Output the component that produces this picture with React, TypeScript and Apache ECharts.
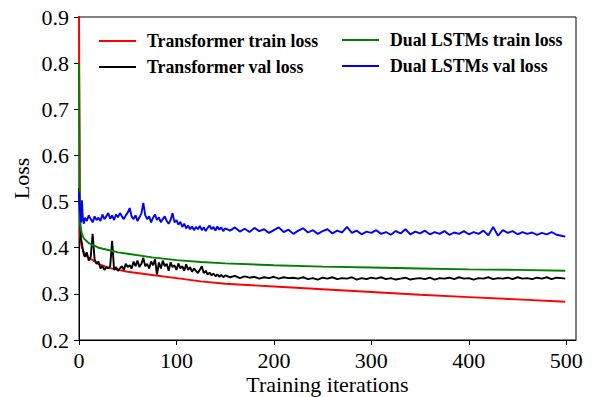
import React, { useEffect, useRef } from "react";
import * as echarts from "echarts";

const FONT = "'Times New Roman', 'Liberation Serif', serif";

// Iterations for the noisy validation curves
const iters = [
  0, 1, 2, 3, 4, 5, 6,
  8, 10, 12, 14, 16, 18, 20, 22, 24, 26, 28, 30, 32, 34, 36, 38, 40, 42, 44, 46, 48, 50,
  52, 54, 56, 58, 60, 62, 64, 66, 68, 70, 72, 74, 76, 78, 80, 82, 84, 86, 88, 90, 92, 94, 96, 98, 100,
  102, 104, 106, 108, 110, 112, 114, 116, 118, 120, 122, 124, 126, 128, 130, 132, 134, 136, 138, 140, 142, 144, 146, 148, 150,
  155, 160, 165, 170, 175, 180, 185, 190, 195, 200, 205, 210, 215, 220, 225, 230, 235, 240, 245, 250,
  255, 260, 265, 270, 275, 280, 285, 290, 295, 300, 305, 310, 315, 320, 325, 330, 335, 340, 345, 350,
  355, 360, 365, 370, 375, 380, 385, 390, 395, 400, 405, 410, 415, 420, 425, 430, 435, 440, 445, 450,
  455, 460, 465, 470, 475, 480, 485, 490, 495, 499,
];

const transformerVal = [
  0.53, 0.47, 0.42, 0.41, 0.395, 0.385, 0.38,
  0.39, 0.372, 0.38, 0.43, 0.375, 0.365, 0.37, 0.355, 0.36, 0.352, 0.358, 0.355, 0.36, 0.415, 0.352, 0.358, 0.35, 0.355, 0.36, 0.352, 0.365, 0.358,
  0.362, 0.355, 0.37, 0.36, 0.372, 0.358, 0.365, 0.378, 0.36, 0.365, 0.355, 0.37, 0.362, 0.375, 0.342, 0.368, 0.355, 0.372, 0.36, 0.365, 0.35, 0.368, 0.358, 0.362, 0.352,
  0.366, 0.355, 0.36, 0.35, 0.364, 0.352, 0.358, 0.348, 0.355, 0.35, 0.345, 0.352, 0.36, 0.345, 0.35, 0.342, 0.346, 0.34, 0.344, 0.338, 0.342, 0.337, 0.341, 0.336, 0.34,
  0.336, 0.339, 0.334, 0.338, 0.335, 0.337, 0.333, 0.336, 0.334, 0.337, 0.333, 0.336, 0.334, 0.335, 0.333, 0.336, 0.332, 0.334, 0.331, 0.335,
  0.333, 0.336, 0.332, 0.334, 0.333, 0.336, 0.331, 0.334, 0.332, 0.335, 0.333, 0.336, 0.332, 0.334, 0.331, 0.333, 0.335, 0.331, 0.333, 0.334,
  0.332, 0.335, 0.331, 0.334, 0.333, 0.335, 0.332, 0.336, 0.333, 0.334, 0.331, 0.334, 0.333, 0.336, 0.332, 0.334, 0.333, 0.335, 0.332, 0.336,
  0.333, 0.334, 0.332, 0.335, 0.333, 0.336, 0.332, 0.335, 0.334, 0.333,
];

const lstmVal = [
  0.52, 0.48, 0.455, 0.503, 0.46, 0.452, 0.465,
  0.458, 0.47, 0.462, 0.455, 0.468, 0.46, 0.465, 0.458, 0.472, 0.462, 0.468, 0.475, 0.463, 0.47, 0.46, 0.472, 0.466, 0.475, 0.468, 0.462, 0.47, 0.476,
  0.486, 0.468, 0.462, 0.47, 0.458, 0.466, 0.474, 0.497, 0.47, 0.462, 0.468, 0.455, 0.465, 0.472, 0.46, 0.466, 0.455, 0.462, 0.468, 0.458, 0.452, 0.46, 0.475, 0.455, 0.46,
  0.45, 0.456, 0.445, 0.452, 0.442, 0.448, 0.44, 0.446, 0.438, 0.445, 0.44, 0.447, 0.438, 0.444, 0.436, 0.443, 0.448, 0.44, 0.445, 0.437, 0.446, 0.439, 0.444, 0.436, 0.442,
  0.437, 0.444, 0.435, 0.441, 0.434, 0.443, 0.436, 0.44, 0.432, 0.438, 0.444, 0.434, 0.439, 0.43, 0.437, 0.442, 0.433, 0.438, 0.43, 0.436,
  0.44, 0.431, 0.437, 0.433, 0.445, 0.432, 0.437, 0.429, 0.435, 0.432, 0.438, 0.43, 0.434, 0.428, 0.436, 0.431, 0.44, 0.429, 0.435, 0.431,
  0.437, 0.429, 0.434, 0.43, 0.436, 0.428, 0.433, 0.43, 0.436, 0.429, 0.434, 0.43, 0.437, 0.427, 0.445, 0.426, 0.438, 0.432, 0.436, 0.429,
  0.434, 0.43, 0.433, 0.428, 0.432, 0.429, 0.434, 0.428, 0.426, 0.424,
];

// Smooth training curves
const trainIters = [0, 1, 2, 3, 4, 5, 6, 8, 10, 15, 20, 30, 40, 50, 75, 100, 125, 150, 200, 250, 300, 350, 400, 450, 499];
const transformerTrain = [0.92, 0.43, 0.41, 0.4, 0.395, 0.39, 0.387, 0.382, 0.378, 0.372, 0.365, 0.357, 0.352, 0.348, 0.341, 0.334, 0.327, 0.322, 0.316, 0.31, 0.304, 0.298, 0.293, 0.288, 0.283];
const lstmTrain = [0.8, 0.45, 0.44, 0.43, 0.425, 0.42, 0.418, 0.414, 0.41, 0.405, 0.4, 0.395, 0.39, 0.387, 0.379, 0.373, 0.369, 0.366, 0.362, 0.359, 0.357, 0.355, 0.353, 0.352, 0.35];

const xTicks = [0, 100, 200, 300, 400, 500];

const zip = (xs: number[], ys: number[]) => xs.map((x, i) => [x, ys[i]]);

export default function App() {
  const ref = useRef<HTMLDivElement>(null);
  useEffect(() => {
    if (!ref.current) return;
    const chart = echarts.init(ref.current, null, { renderer: "svg" });
    const legendText = {
      fontFamily: FONT,
      fontWeight: "bold" as const,
      fontSize: 17.8,
      color: "#000",
      padding: [0, 0, 0, 6],
      lineHeight: 16,
    };
    const line = (name: string, color: string, data: number[][], z: number) => ({
      name,
      type: "line",
      data,
      showSymbol: false,
      symbol: "none",
      lineStyle: { color, width: 1.9 },
      itemStyle: { color },
      z,
    });
    chart.setOption({
      animation: false,
      backgroundColor: "#fff",
      grid: {
        left: 79,
        right: 16,
        top: 17,
        bottom: 57,
        outerBoundsMode: "none",
        containLabel: false,
        show: true,
        borderColor: "#000",
        borderWidth: 1,
        backgroundColor: "transparent",
      },
      legend: [
        {
          data: ["Transformer train loss", "Transformer val loss"],
          orient: "vertical",
          left: 94,
          top: 27,
          icon: "rect",
          itemWidth: 37,
          itemHeight: 2,
          itemGap: 8,
          textStyle: legendText,
        },
        {
          data: ["Dual LSTMs train loss", "Dual LSTMs val loss"],
          orient: "vertical",
          left: 337,
          top: 26,
          icon: "rect",
          itemWidth: 37,
          itemHeight: 2,
          itemGap: 8,
          textStyle: legendText,
        },
      ],
      xAxis: {
        type: "value",
        min: 0,
        max: 510,
        interval: 100,
        name: "Training iterations",
        nameLocation: "middle",
        nameGap: 33,
        nameMoveOverlap: false,
        nameTextStyle: { fontFamily: FONT, fontSize: 22, color: "#000", lineHeight: 22 },
        axisLine: { lineStyle: { color: "#000", width: 1 } },
        axisTick: { show: true, length: 5, inside: false, lineStyle: { color: "#000" } },
        axisLabel: {
          fontFamily: FONT,
          fontSize: 22,
          color: "#000",
          margin: 9,
          showMaxLabel: false,
          formatter: (v: number) => (xTicks.includes(Math.round(v)) ? String(Math.round(v)) : ""),
        },
        splitLine: { show: false },
      },
      yAxis: {
        type: "value",
        min: 0.2,
        max: 0.9,
        interval: 0.1,
        name: "Loss",
        nameLocation: "middle",
        nameGap: 47,
        nameMoveOverlap: false,
        nameTextStyle: { fontFamily: FONT, fontSize: 22, color: "#000" },
        axisLine: { show: true, lineStyle: { color: "#000", width: 1 } },
        axisTick: { show: true, length: 5, lineStyle: { color: "#000" } },
        axisLabel: {
          fontFamily: FONT,
          fontSize: 22,
          color: "#000",
          margin: 10,
          formatter: (v: number) => v.toFixed(1),
        },
        splitLine: { show: false },
      },
      series: [
        line("Transformer train loss", "#ff0000", zip(trainIters, transformerTrain), 2),
        line("Transformer val loss", "#000000", zip(iters, transformerVal), 3),
        line("Dual LSTMs train loss", "#008000", zip(trainIters, lstmTrain), 4),
        line("Dual LSTMs val loss", "#0000ff", zip(iters, lstmVal), 5),
      ],
    });
    return () => chart.dispose();
  }, []);
  return (
    <div
      ref={ref}
      style={{ position: "fixed", left: 0, top: 0, width: 592, height: 397, background: "#fff" }}
    />
  );
}
